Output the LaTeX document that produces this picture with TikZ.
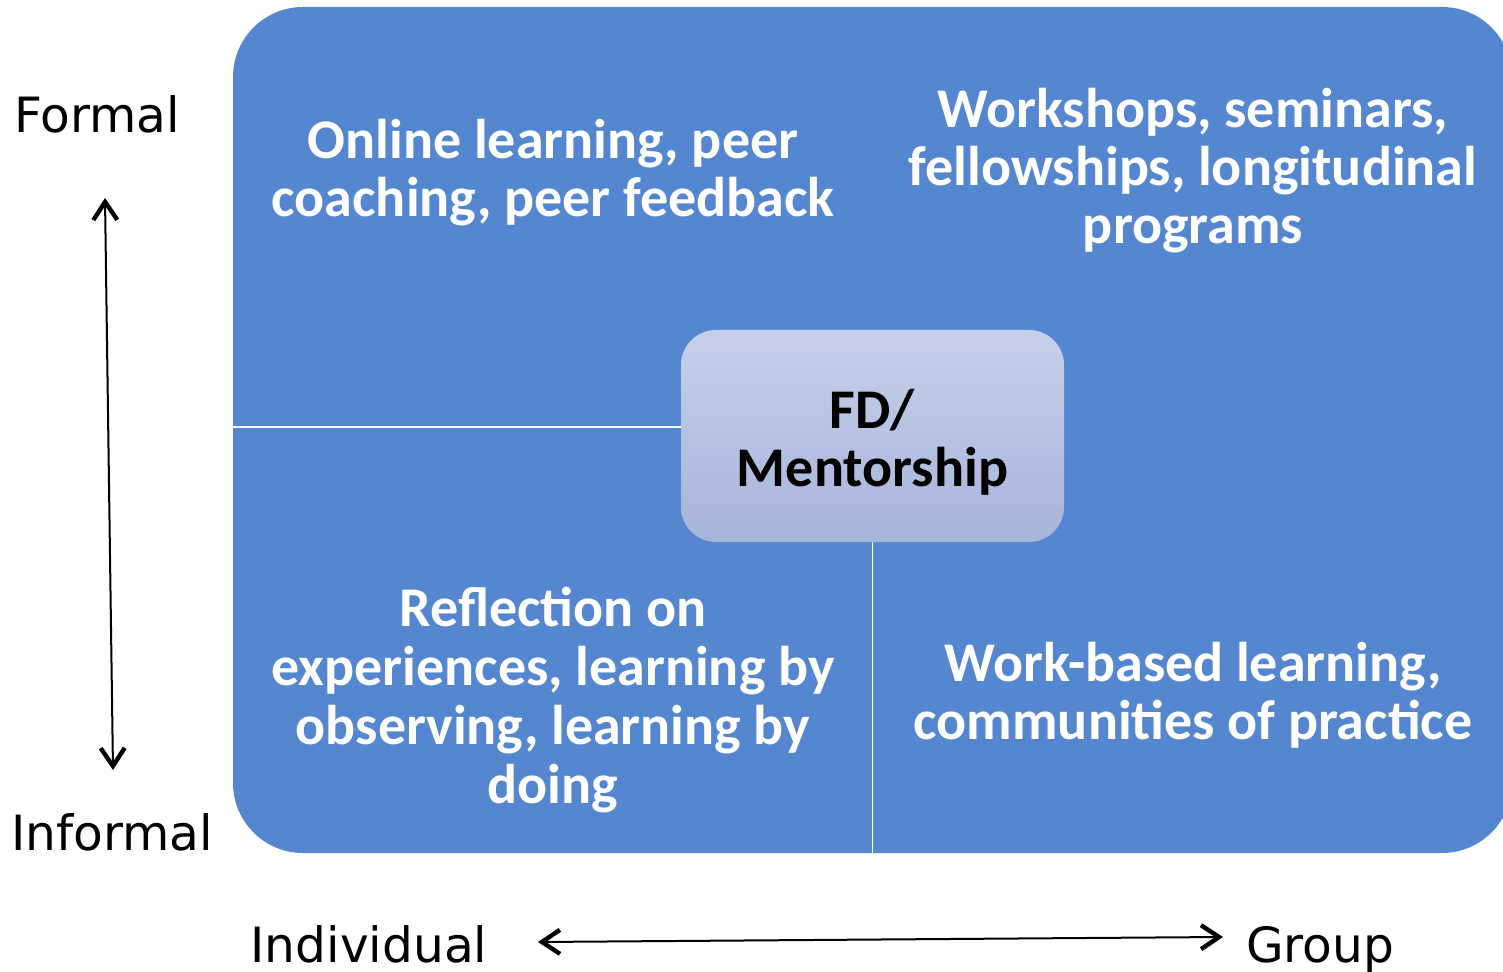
\documentclass[tikz,border=0pt]{standalone}
\usepackage{fontspec}
\setmainfont{Carlito}
\newfontfamily\axisfont{DejaVu Sans}
\usetikzlibrary{arrows.meta}
\definecolor{quadblue}{RGB}{85,135,208}
\definecolor{hubtop}{RGB}{198,208,235}
\definecolor{hubbot}{RGB}{166,180,216}
\begin{document}
\begin{tikzpicture}[x=0.5pt,y=-0.5pt,
  quadtext/.style={text=white, font=\fontsize{28}{29}\selectfont\bfseries, align=center, inner sep=0},
  axislabel/.style={font=\axisfont\fontsize{24.3}{28}\selectfont, anchor=base, inner sep=0},
  axisarrow/.style={line width=1pt, >={Straight Barb[length=9pt,width=12pt,line width=2.2pt]}, <->},
  divider/.style={white, line width=0.9pt},
  hub/.style={rounded corners=17.5pt, top color=hubtop, bottom color=hubbot,
    minimum width=191.5pt, minimum height=106pt, inner sep=0},
  hubtext/.style={align=center, inner sep=0,
    font=\fontsize{28}{29}\selectfont\bfseries, text=black}]
\useasboundingbox (0,0) rectangle (1503,972);
\begin{scope}
\clip (0,0) rectangle (1503,972);
\fill[quadblue, rounded corners=35pt] (233,7) rectangle (1512,853);
\end{scope}
\node[hub] (hub) at (872.5,436) {};
\node[hubtext] (hublabel) at (872.5,442) {FD/\\Mentorship};
\coordinate (hdivL) at (233,427);
\coordinate (vdivB) at (872.5,853);
\draw[divider] (hdivL) -- (hdivL -| hub.west);
\draw[divider] (hub.south) -- (vdivB);
\node[quadtext] (tlq) at (553,173) {Online learning, peer\\coaching, peer feedback};
\node[quadtext] (trq) at (1193,171) {Workshops, seminars,\\fellowships, longitudinal\\programs};
\node[quadtext, font=\fontsize{28}{29.6}\selectfont\bfseries] (blq) at (553,700) {Reflection on\\experiences, learning by\\observing, learning by\\doing};
\node[quadtext] (brq) at (1193,695) {Work-based learning,\\communities of practice};
\node[axislabel] (formal) at (97,133) {Formal};
\node[axislabel] (informal) at (112,850) {Informal};
\node[axislabel] (indiv) at (369,962) {Individual};
\node[axislabel] (group) at (1320,962) {Group};
\coordinate (vtop) at (105,198);
\coordinate (vbot) at (113,770);
\coordinate (hleft) at (538,942);
\coordinate (hright) at (1223,937);
\draw[axisarrow] (vtop) -- (vbot);
\draw[axisarrow] (hleft) -- (hright);
\end{tikzpicture}
\end{document}
